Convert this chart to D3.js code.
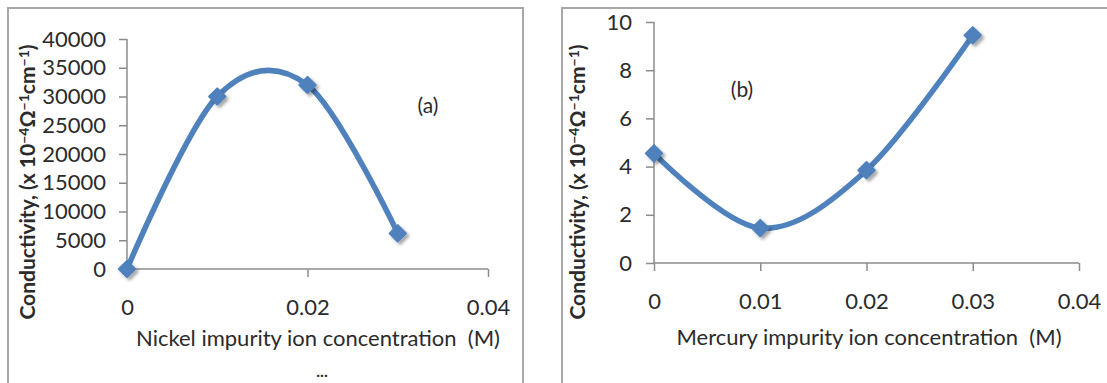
<!DOCTYPE html>
<html>
<head>
<meta charset="utf-8">
<script src="https://cdn.jsdelivr.net/npm/d3@7"></script>
<style>
  body { margin: 0; background: #fff; }
  svg text { font-family: Lato, "Open Sans", sans-serif; fill: #2b2b2b; }
</style>
</head>
<body>
<div id="chart"></div>
<script>
// panel (a): nickel
const nickelConc = [0, 0.01, 0.02, 0.03];
const nickelCond = [0, 30000, 32000, 6200];
const nickelXTicks = [0, 0.02, 0.04];
const nickelYTicks = [0, 5000, 10000, 15000, 20000, 25000, 30000, 35000, 40000];

// panel (b): mercury
const mercuryConc = [0, 0.01, 0.02, 0.03];
const mercuryCond = [4.55, 1.45, 3.85, 9.45];
const mercuryXTicks = [0, 0.01, 0.02, 0.03, 0.04];
const mercuryYTicks = [0, 2, 4, 6, 8, 10];

const blue = '#4f81bd';
const axisGrey = '#8c8c8c';

const svg = d3.select('#chart').append('svg')
  .attr('width', 1107).attr('height', 383);

// shadow for the markers
const defs = svg.append('defs');
const shadow = defs.append('filter').attr('id', 'shadow')
  .attr('x', '-50%').attr('y', '-50%').attr('width', '200%').attr('height', '200%');
shadow.append('feDropShadow').attr('dx', 2.5).attr('dy', 2.5)
  .attr('stdDeviation', 1.8).attr('flood-color', '#000').attr('flood-opacity', 0.35);

// panel frames
svg.append('rect').attr('x', 8).attr('y', 8).attr('width', 515).attr('height', 420)
  .attr('fill', 'none').attr('stroke', '#a8a8a8').attr('stroke-width', 2);
svg.append('rect').attr('x', 562).attr('y', 8).attr('width', 600).attr('height', 420)
  .attr('fill', 'none').attr('stroke', '#a8a8a8').attr('stroke-width', 2);

function drawPanel(cfg) {
  const g = svg.append('g');
  const x = d3.scaleLinear().domain(cfg.xDomain).range(cfg.xRange);
  const y = d3.scaleLinear().domain(cfg.yDomain).range(cfg.yRange);

  // y axis
  const yAxis = g.append('g').attr('transform', `translate(${cfg.xRange[0]},0)`)
    .call(d3.axisLeft(y).tickValues(cfg.yTicks).tickSize(8).tickPadding(cfg.yPad).tickFormat(d3.format('d')));
  // x axis
  const xAxis = g.append('g').attr('transform', `translate(0,${cfg.yRange[0]})`)
    .call(d3.axisBottom(x).tickValues(cfg.xTicks).tickSize(8).tickPadding(cfg.xPad).tickFormat(d => d === 0 ? '0' : d3.format('.2f')(d)));

  [yAxis, xAxis].forEach(a => {
    a.select('.domain').attr('stroke', axisGrey).attr('stroke-width', 1.5);
    a.selectAll('.tick line').attr('stroke', axisGrey).attr('stroke-width', 1.5);
    a.selectAll('.tick text').attr('font-size', 22).attr('fill', '#2b2b2b')
      .attr('font-family', 'Lato, sans-serif');
  });
  // axis lines only, no outer end caps
  yAxis.select('.domain').attr('d', `M0,${cfg.yRange[0]}V${cfg.yRange[1]}`);
  xAxis.select('.domain').attr('d', `M${cfg.xRange[0]},0H${cfg.xRange[1]}`);

  // smoothed line
  const pts = cfg.xs.map((d, i) => [d, cfg.ys[i]]);
  const line = d3.line().x(d => x(d[0])).y(d => y(d[1])).curve(d3.curveCardinal.tension(0));
  g.append('path').datum(pts).attr('d', line)
    .attr('fill', 'none').attr('stroke', blue).attr('stroke-width', 5.5)
    .attr('stroke-linejoin', 'round').attr('stroke-linecap', 'round');

  // diamond markers
  g.selectAll('.marker').data(pts).join('path').attr('class', 'marker')
    .attr('d', d3.symbol(d3.symbolDiamond2, 170))
    .attr('transform', d => `translate(${x(d[0])},${y(d[1])})`)
    .attr('fill', blue).attr('stroke', blue).attr('stroke-width', 2)
    .attr('stroke-linejoin', 'round').attr('filter', 'url(#shadow)');

  // x title
  g.append('text').attr('x', cfg.xTitlePos[0]).attr('y', cfg.xTitlePos[1])
    .attr('text-anchor', 'middle').attr('font-size', 22).attr('xml:space', 'preserve')
    .text(cfg.xTitle);

  // y title with superscripts
  const yt = g.append('text')
    .attr('transform', `translate(${cfg.yTitlePos[0]},${cfg.yTitlePos[1]}) rotate(-90)`)
    .attr('text-anchor', 'middle').attr('font-size', 21).attr('font-weight', 'bold');
  const parts = [['Conductivity, (x 10', false], ['\u22124', true], ['\u03a9', false],
    ['\u22121', true], ['cm', false], ['\u22121', true], [')', false]];
  parts.forEach(([t, sup]) => {
    yt.append('tspan').text(t)
      .attr('font-size', sup ? 14 : 21)
      .attr('baseline-shift', sup ? '45%' : null);
  });

  // panel label
  g.append('text').attr('x', cfg.labelPos[0]).attr('y', cfg.labelPos[1])
    .attr('text-anchor', 'middle').attr('font-size', 21).text(cfg.label);
  return g;
}

const gA = drawPanel({
  xs: nickelConc, ys: nickelCond,
  xDomain: [0, 0.04], xRange: [127, 488],
  yDomain: [0, 40000], yRange: [269, 39],
  xTicks: nickelXTicks, yTicks: nickelYTicks, yPad: 13, xPad: 22,
  xTitle: 'Nickel impurity ion concentration  (M)', xTitlePos: [318, 346],
  yTitlePos: [35, 182], label: '(a)', labelPos: [428, 113]
});
// stray dots under the left title
gA.append('text').attr('x', 322).attr('y', 377).attr('text-anchor', 'middle')
  .attr('font-size', 16).attr('font-weight', 'bold').text('...');

drawPanel({
  xs: mercuryConc, ys: mercuryCond,
  xDomain: [0, 0.04], xRange: [654, 1079],
  yDomain: [0, 10], yRange: [263, 22],
  xTicks: mercuryXTicks, yTicks: mercuryYTicks, yPad: 14, xPad: 22,
  xTitle: 'Mercury impurity ion concentration  (M)', xTitlePos: [869, 345],
  yTitlePos: [585, 182], label: '(b)', labelPos: [742, 97]
});
</script>
</body>
</html>
